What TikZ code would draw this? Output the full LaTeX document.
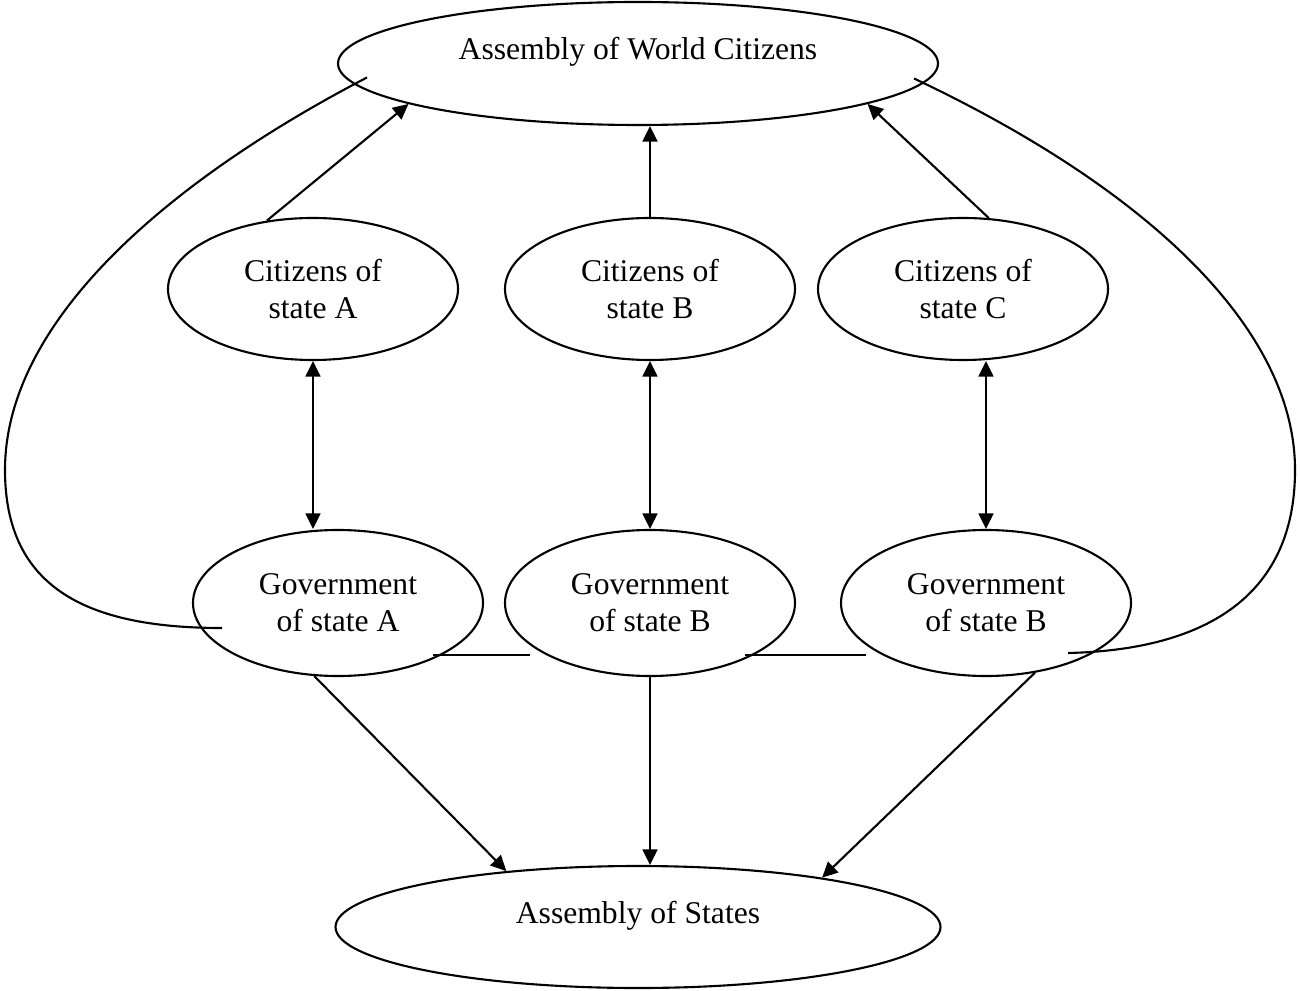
\documentclass[tikz,border=0pt]{standalone}
\usepackage{fontspec}
\setmainfont{Liberation Serif}
\usetikzlibrary{positioning,arrows.meta,shapes.geometric,calc}
\tikzset{
  bubble/.style={draw, ellipse, line width=0.6pt, inner sep=0pt, align=center,
    minimum width=2.9cm, minimum height=1.44cm, font=\fontsize{9}{10.6}\selectfont},
  assembly/.style={bubble, minimum width=6cm, minimum height=1.23cm, text height=6pt, text depth=8pt},
  link/.style={line width=0.6pt, -{Triangle[length=4.4pt,width=4.2pt]}},
  twoway/.style={line width=0.6pt, {Triangle[length=4.4pt,width=4.2pt]}-{Triangle[length=4.4pt,width=4.2pt]}},
  tie/.style={line width=0.6pt}
}

\begin{document}
\begin{tikzpicture}
    \useasboundingbox (0,0) rectangle (13,9.9);

    \node[assembly] (world) at (6.38,9.265) {Assembly of World Citizens};
    \node[assembly, minimum width=6.05cm, minimum height=1.22cm] (states) at (6.38,0.63) {Assembly of States};

    \node[bubble, minimum height=1.42cm] (citA) at (3.13,7.01) {Citizens of\\state A};
    \node[bubble, minimum height=1.42cm] (citB) at (6.50,7.01) {Citizens of\\state B};
    \node[bubble, minimum height=1.42cm] (citC) at (9.63,7.01) {Citizens of\\state C};

    \node[bubble, minimum height=1.46cm] (govA) at (3.38,3.87) {Government\\of state A};
    \node[bubble, minimum height=1.46cm] (govB) at (6.50,3.87) {Government\\of state B};
    \node[bubble, minimum height=1.46cm] (govC) at (9.86,3.87) {Government\\of state B};

    \draw[link] (citA.124) -- (world.190);
    \draw[link] (citB.north) -- (citB.north |- world.south);
    \draw[link] (citC.70) -- (world.350);

    \draw[twoway] (citA.south) -- (citA.south |- govA.north);
    \draw[twoway] (citB.south) -- (govB.north);
    \draw[twoway] (govC.north |- citC.south) -- (govC.north);

    \draw[link] (govA.252) -- (states.157);
    \draw[link] (govB.south) -- (govB.south |- states.north);
    \draw[link] (govC.305) -- (states.15);

    \draw[tie] ($(govA)+(0.95,-0.52)$) -- ($(govB)+(-1.2,-0.52)$);
    \draw[tie] ($(govB)+(0.95,-0.52)$) -- ($(govC)+(-1.2,-0.52)$);

    % outer loops
    \draw[tie] ($(govA)+(-1.16,-0.25)$) .. controls (0.9,3.62) and (0.05,4.0) .. (0.05,5.2)
        .. controls (0.05,6.7) and (1.7,8.1) .. ($(world)+(-2.71,-0.14)$);
    \draw[tie] ($(govC)+(0.82,-0.5)$) .. controls (12.0,3.4) and (12.95,3.9) .. (12.95,5.2)
        .. controls (12.95,6.6) and (11.5,8.0) .. ($(world)+(2.76,-0.15)$);
\end{tikzpicture}
\end{document}
